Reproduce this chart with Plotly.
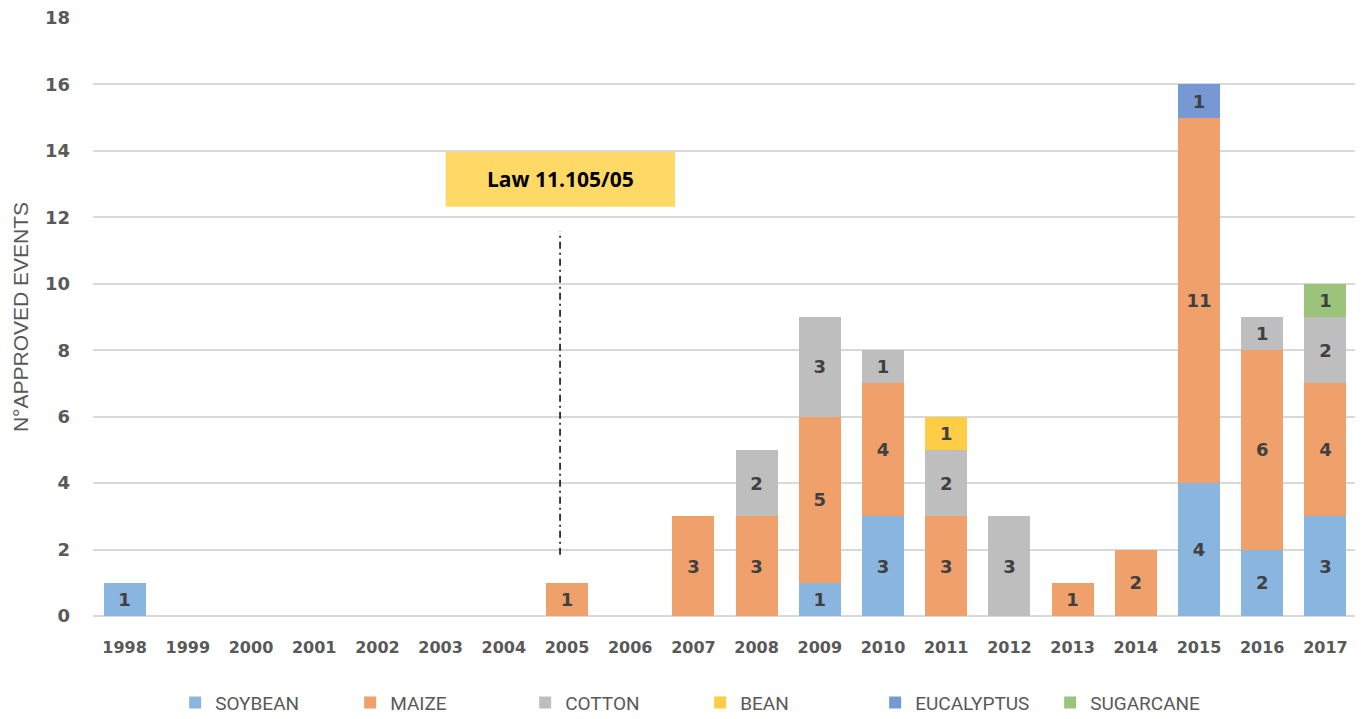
import plotly.graph_objects as go

years = [str(y) for y in range(1998, 2018)]
soybean =    [1, None, None, None, None, None, None, None, None, None, None, 1, 3, None, None, None, None, 4, 2, 3]
maize =      [None, None, None, None, None, None, None, 1, None, 3, 3, 5, 4, 3, None, 1, 2, 11, 6, 4]
cotton =     [None, None, None, None, None, None, None, None, None, None, 2, 3, 1, 2, 3, None, None, None, 1, 2]
bean =       [None, None, None, None, None, None, None, None, None, None, None, None, None, 1, None, None, None, None, None, None]
eucalyptus = [None, None, None, None, None, None, None, None, None, None, None, None, None, None, None, None, None, 1, None, None]
sugarcane =  [None, None, None, None, None, None, None, None, None, None, None, None, None, None, None, None, None, None, None, 1]

series = [
    ("SOYBEAN", soybean, "#8AB5DF"),
    ("MAIZE", maize, "#F0A16B"),
    ("COTTON", cotton, "#BEBEBE"),
    ("BEAN", bean, "#FDCD45"),
    ("EUCALYPTUS", eucalyptus, "#7699D3"),
    ("SUGARCANE", sugarcane, "#9BC47A"),
]

BOLD = "DejaVu Sans"
NARROW = "Liberation Sans Narrow, Roboto, sans-serif"

fig = go.Figure()
for name, vals, col in series:
    fig.add_trace(go.Bar(
        x=years, y=vals, name=name, marker_color=col, marker_line_width=0,
        text=[str(v) if v else "" for v in vals], textposition="inside",
        insidetextanchor="middle",
        textfont=dict(family=BOLD, size=18, color="#404040", weight="bold"),
        constraintext="none",
    ))

# page body has an 8px margin, so the figure is sized to fit the 1363x719 window
fig.update_layout(
    barmode="stack", bargap=0.335,
    width=1355, height=711,
    margin=dict(l=85, r=6, t=10, b=103, autoexpand=False),
    plot_bgcolor="white", paper_bgcolor="white",
    showlegend=True,
    legend=dict(orientation="h", x=0.065, xanchor="left", xref="paper",
                y=-0.113, yanchor="top", entrywidth=130, entrywidthmode="pixels",
                font=dict(family=NARROW, size=19, color="#595959"),
                traceorder="normal", itemclick=False),
    xaxis=dict(type="category", showgrid=False, showline=False, ticks="", automargin=False,
               tickfont=dict(family=BOLD, size=16, color="#595959", weight="bold"),
               ticklabelstandoff=20),
    yaxis=dict(range=[0, 18], dtick=2, showgrid=True, gridcolor="#D9D9D9", gridwidth=1.5,
               zeroline=True, zerolinecolor="#D9D9D9", zerolinewidth=1.5, automargin=False,
               ticklabeloverflow="allow",
               tickfont=dict(family=BOLD, size=18, color="#595959", weight="bold"),
               ticklabelstandoff=22,
               title=dict(text="N°APPROVED EVENTS", standoff=10,
                          font=dict(family="Liberation Sans", size=21, color="#595959"))),
)

# Law annotation box and dash-dot line
fig.add_shape(type="rect", xref="x", yref="y", x0=5.08, x1=8.71, y0=12.32, y1=13.97,
              fillcolor="#FFD966", line_width=0, layer="above")
fig.add_annotation(x=6.9, y=13.15, xref="x", yref="y", text="<b>Law 11.105/05</b>",
                   showarrow=False, font=dict(family="Open Sans", size=21, color="#000000"))
fig.add_shape(type="line", xref="x", yref="y", x0=6.89, x1=6.89, y0=1.84, y1=11.57,
              line=dict(color="#000000", width=1.5, dash="7px,4px,2px,4px"))

fig.write_html("out.html")
